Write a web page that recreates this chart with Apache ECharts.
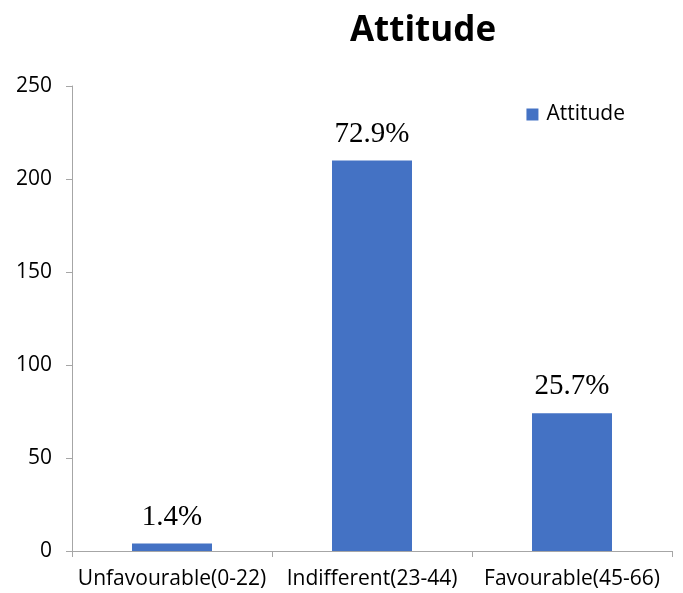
<!DOCTYPE html>
<html>
<head>
<meta charset="utf-8">
<script src="https://cdn.jsdelivr.net/npm/echarts@6/dist/echarts.min.js"></script>
<style>
  html, body { margin: 0; padding: 0; background: #fff; }
  #chart { width: 683px; height: 593px; }
</style>
</head>
<body>
<div id="chart"></div>
<script>
const categories = ["Unfavourable(0-22)", "Indifferent(23-44)", "Favourable(45-66)"];
const counts = [4, 210, 74];
const percentLabels = ["1.4%", "72.9%", "25.7%"];
const yTicks = [0, 50, 100, 150, 200, 250];

const chart = echarts.init(document.getElementById("chart"));

const option = {
    animation: false,
    title: {
        text: "Attitude",
        left: 418,
        top: 9,
        textAlign: "center",
        textStyle: { fontFamily: "Open Sans", fontWeight: "bold", fontSize: 35, color: "#000" }
    },
    legend: {
        right: 53,
        top: 99,
        itemWidth: 12,
        itemHeight: 12,
        itemGap: 8,
        textStyle: { fontFamily: "Open Sans", fontSize: 21, color: "#000", padding: [0, 0, 0, 3] },
        data: [{ name: "Attitude", icon: "rect" }]
    },
    grid: { left: 72, right: 11, top: 86, bottom: 42 },
    xAxis: {
        type: "category",
        data: categories,
        axisLine: { lineStyle: { color: "#a6a6a6", width: 1 } },
        axisTick: { show: true, length: 6, lineStyle: { color: "#a6a6a6" } },
        axisLabel: { fontFamily: "Open Sans", fontSize: 21, color: "#000", margin: 18, interval: 0 }
    },
    yAxis: {
        type: "value",
        min: yTicks[0],
        max: yTicks[yTicks.length - 1],
        interval: 50,
        splitLine: { show: false },
        axisLine: { show: true, lineStyle: { color: "#a6a6a6", width: 1 } },
        axisTick: { show: true, length: 6, lineStyle: { color: "#a6a6a6" } },
        axisLabel: { fontFamily: "Open Sans", fontSize: 21, color: "#000", margin: 20 }
    },
    series: [{
        name: "Attitude",
        type: "bar",
        data: counts,
        barWidth: "40%",
        itemStyle: { color: "#4472C4" },
        label: {
            show: true,
            position: "top",
            distance: 12,
            formatter: p => percentLabels[p.dataIndex],
            fontFamily: "Liberation Serif",
            fontSize: 29,
            color: "#000"
        }
    }]
};

chart.setOption(option);
</script>
</body>
</html>
